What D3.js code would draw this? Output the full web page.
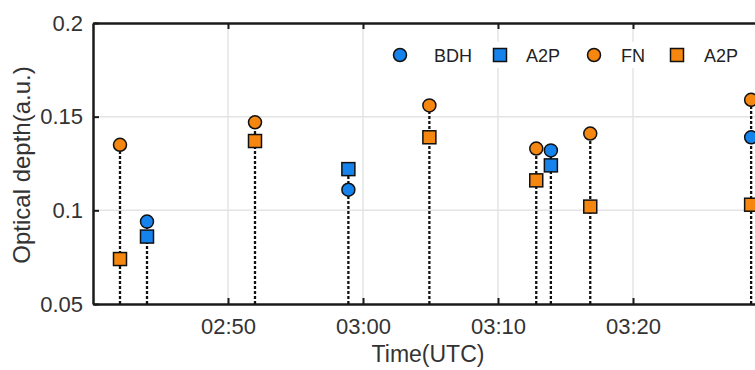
<!DOCTYPE html>
<html>
<head>
<meta charset="utf-8">
<script src="https://cdn.jsdelivr.net/npm/d3@7"></script>
<style>
  body { margin: 0; background: #fff; }
  svg { display: block; font-family: "Liberation Sans", Arial, sans-serif; }
</style>
</head>
<body>
<div id="chart"></div>
<script>
// Data
const times = ["02:42:00", "02:44:00", "02:52:00", "02:58:55", "03:04:55", "03:12:50", "03:13:55", "03:16:50", "03:28:45"]
const bdh       = [null, 0.094, null, 0.111, null, null, 0.132, null, 0.139]
const a2pBlue   = [null, 0.086, null, 0.122, null, null, 0.124, null, null]
const fn        = [0.135, null, 0.147, null, 0.156, 0.133, null, 0.141, 0.159]
const a2pOrange = [0.074, null, 0.137, null, 0.139, 0.116, null, 0.102, 0.103]

const yTicks = [0.05, 0.1, 0.15, 0.2]
const xTickLabels = ["02:50", "03:00", "03:10", "03:20"]

// Constants
const width = 755
const height = 370
const margin = { top: 23, right: -13, bottom: 66, left: 93 }
const graphWidth = width - margin.left - margin.right
const graphHeight = height - margin.top - margin.bottom

const blue = "#1683ec"
const orange = "#f5860f"
const textColor = "#333"

const parseTime = d3.timeParse("%H:%M:%S")
const parseTick = d3.timeParse("%H:%M")

const svg = d3.select("#chart")
    .append("svg")
    .attr("width", width)
    .attr("height", height)

const g = svg.append("g")
    .attr("transform", `translate(${margin.left}, ${margin.top})`)

// Scales
const x = d3.scaleTime()
    .domain([parseTick("02:40"), parseTick("03:30")])
    .range([0, graphWidth])

const y = d3.scaleLinear()
    .domain([0.05, 0.2])
    .range([graphHeight, 0])

const xTicks = xTickLabels.map(parseTick)

// Grid
g.append("g").selectAll("line")
    .data(xTicks)
    .join("line")
    .attr("x1", d => x(d)).attr("x2", d => x(d))
    .attr("y1", 0).attr("y2", graphHeight)
    .attr("stroke", "#e4e4e4")
    .attr("stroke-width", 1.5)

g.append("g").selectAll("line")
    .data(yTicks.slice(1, -1))
    .join("line")
    .attr("x1", 0).attr("x2", graphWidth)
    .attr("y1", d => y(d)).attr("y2", d => y(d))
    .attr("stroke", "#e4e4e4")
    .attr("stroke-width", 1.5)

// Axes (MATLAB style, inward ticks)
const xAxis = d3.axisBottom(x)
    .tickValues(xTicks)
    .tickFormat(d3.timeFormat("%H:%M"))
    .tickSizeInner(-6)
    .tickSizeOuter(0)
    .tickPadding(14)

const xAxisGroup = g.append("g")
    .attr("transform", `translate(0, ${graphHeight})`)
    .call(xAxis)

const xTopGroup = g.append("g")
    .call(d3.axisTop(x).tickValues(xTicks).tickFormat("").tickSizeInner(-6).tickSizeOuter(0))

const yAxis = d3.axisLeft(y)
    .tickValues(yTicks)
    .tickFormat(d => d3.format("")(+d.toFixed(2)))
    .tickSizeInner(-6)
    .tickSizeOuter(0)
    .tickPadding(10)

const yAxisGroup = g.append("g").call(yAxis)

;[xAxisGroup, xTopGroup, yAxisGroup].forEach(ag => {
    ag.select(".domain").attr("stroke", "#1a1a1a").attr("stroke-width", 2.5)
    ag.selectAll(".tick line").attr("stroke", "#1a1a1a").attr("stroke-width", 2)
    ag.selectAll("text")
        .style("font-size", "22px")
        .style("font-family", "'Liberation Sans', Arial, sans-serif")
        .attr("fill", textColor)
})

// Axis labels
g.append("text")
    .attr("x", 428 - margin.left)
    .attr("y", graphHeight + 58)
    .attr("text-anchor", "middle")
    .style("font-size", "23px")
    .attr("fill", textColor)
    .text("Time(UTC)")

g.append("text")
    .attr("transform", "rotate(-90)")
    .attr("x", -142)
    .attr("y", -63)
    .attr("text-anchor", "middle")
    .style("font-size", "24px")
    .attr("fill", textColor)
    .text("Optical depth(a.u.)")

// Stems: dotted line from the bottom up to the highest marker
const points = times.map((t, i) => ({
    t: parseTime(t),
    top: d3.max([bdh[i], a2pBlue[i], fn[i], a2pOrange[i]])
}))

g.append("g").selectAll("line")
    .data(points)
    .join("line")
    .attr("x1", d => x(d.t)).attr("x2", d => x(d.t))
    .attr("y1", graphHeight)
    .attr("y2", d => y(d.top))
    .attr("stroke", "#111")
    .attr("stroke-width", 2.3)
    .attr("stroke-dasharray", "3,2")

// Markers
const series = [
    { name: "BDH", values: bdh, shape: "circle", color: blue },
    { name: "A2P", values: a2pBlue, shape: "square", color: blue },
    { name: "FN", values: fn, shape: "circle", color: orange },
    { name: "A2P", values: a2pOrange, shape: "square", color: orange }
]

const drawMarker = (sel, shape, color) => {
    if (shape === "circle") {
        sel.append("circle").attr("r", 6.5)
            .attr("fill", color).attr("stroke", "#111").attr("stroke-width", 1.5)
    } else {
        sel.append("rect").attr("x", -6.5).attr("y", -6.5)
            .attr("width", 13).attr("height", 13)
            .attr("fill", color).attr("stroke", "#111").attr("stroke-width", 1.5)
    }
}

series.forEach(s => {
    const data = times.map((t, i) => ({ t: parseTime(t), v: s.values[i] })).filter(d => d.v != null)
    g.append("g").selectAll("g")
        .data(data)
        .join("g")
        .attr("transform", d => `translate(${x(d.t)}, ${y(d.v)})`)
        .each(function () { drawMarker(d3.select(this), s.shape, s.color) })
})

// Legend
const legendX = [400, 500, 594, 677]
const legendTextX = [434, 526, 621, 704]
const legend = svg.append("g")
series.forEach((s, i) => {
    const item = legend.append("g").attr("transform", `translate(${legendX[i]}, 55)`)
    item.append("rect").attr("x", -12).attr("y", -13)
        .attr("width", legendTextX[i] - legendX[i] + 45).attr("height", 26).attr("fill", "#fff")
    drawMarker(item, s.shape, s.color)
    item.append("text")
        .attr("x", legendTextX[i] - legendX[i])
        .attr("y", 6.5)
        .style("font-size", "18px")
        .attr("fill", "#222")
        .text(s.name)
})
</script>
</body>
</html>
